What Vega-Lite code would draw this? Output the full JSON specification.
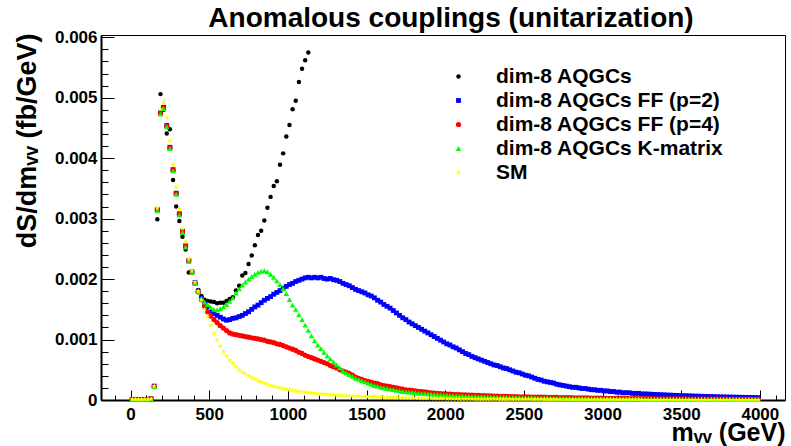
{
"$schema": "https://vega.github.io/schema/vega-lite/v6.json",
"width": 684, "height": 365,
"autosize": "none",
"padding": {"left": 101, "top": 35, "right": 6, "bottom": 46},
"background": "white",
"config": {"font": "Liberation Sans", "view": {"stroke": "black", "strokeWidth": 1}},
"title": {"text": "Anomalous couplings (unitarization)", "fontSize": 28, "fontWeight": "bold", "color": "black", "anchor": "middle", "frame": "group", "offset": 4, "dy": 9, "dx": 8},
"data": {"values": [
{"m":10,"a":0.00001,"b":0.00001,"c":0.00001,"d":0.00001,"e":0.00001},
{"m":30,"a":0.00001,"b":0.00001,"c":0.00001,"d":0.00001,"e":0.00001},
{"m":50,"a":0.00001,"b":0.00001,"c":0.00001,"d":0.00001,"e":0.00001},
{"m":70,"a":0.00001,"b":0.00001,"c":0.00001,"d":0.00001,"e":0.00001},
{"m":90,"a":0.00001,"b":0.00001,"c":0.00001,"d":0.00001,"e":0.00001},
{"m":110,"a":0.00001,"b":0.00001,"c":0.00001,"d":0.00001,"e":0.00001},
{"m":130,"a":0.00002,"b":0.00002,"c":0.00002,"d":0.00002,"e":0.00002},
{"m":150,"a":0.00022,"b":0.00023,"c":0.00022,"d":0.00022,"e":0.00023},
{"m":170,"a":0.00299,"b":0.00315,"c":0.00314,"d":0.00313,"e":0.00318},
{"m":190,"a":0.00506,"b":0.00475,"c":0.00474,"d":0.00473,"e":0.00481},
{"m":210,"a":0.0048,"b":0.00484,"c":0.00483,"d":0.00482,"e":0.00492},
{"m":230,"a":0.00441,"b":0.00454,"c":0.00453,"d":0.00452,"e":0.00467},
{"m":250,"a":0.00448,"b":0.00418,"c":0.00417,"d":0.00416,"e":0.00429},
{"m":270,"a":0.00364,"b":0.00381,"c":0.0038,"d":0.00379,"e":0.00389},
{"m":290,"a":0.0032,"b":0.00342,"c":0.00341,"d":0.0034,"e":0.00352},
{"m":310,"a":0.00296,"b":0.00308,"c":0.00307,"d":0.00306,"e":0.00316},
{"m":330,"a":0.0027,"b":0.00279,"c":0.00278,"d":0.00277,"e":0.00284},
{"m":350,"a":0.00249,"b":0.00255,"c":0.00254,"d":0.00253,"e":0.00262},
{"m":370,"a":0.00211,"b":0.00231,"c":0.0023,"d":0.00229,"e":0.00233},
{"m":390,"a":0.00212,"b":0.00212,"c":0.00211,"d":0.00211,"e":0.00214},
{"m":410,"a":0.00194,"b":0.00194,"c":0.00193,"d":0.00193,"e":0.00195},
{"m":430,"a":0.00182,"b":0.0018,"c":0.00179,"d":0.00179,"e":0.0018},
{"m":450,"a":0.00172,"b":0.00169,"c":0.00166,"d":0.00168,"e":0.00165},
{"m":470,"a":0.00166,"b":0.00158,"c":0.00155,"d":0.00162,"e":0.0015},
{"m":490,"a":0.00164,"b":0.00152,"c":0.00146,"d":0.00158,"e":0.00138},
{"m":510,"a":0.00163,"b":0.00147,"c":0.00139,"d":0.00153,"e":0.00124},
{"m":530,"a":0.00162,"b":0.00143,"c":0.00133,"d":0.0015,"e":0.0011},
{"m":550,"a":0.0016,"b":0.0014,"c":0.00128,"d":0.00149,"e":0.00099},
{"m":570,"a":0.00161,"b":0.00137,"c":0.00123,"d":0.00151,"e":0.00089},
{"m":590,"a":0.00161,"b":0.00134,"c":0.00119,"d":0.00154,"e":0.0008},
{"m":610,"a":0.00164,"b":0.00132,"c":0.00115,"d":0.00158,"e":0.00073},
{"m":630,"a":0.00167,"b":0.00133,"c":0.00111,"d":0.00163,"e":0.00066},
{"m":650,"a":0.0017,"b":0.00135,"c":0.00109,"d":0.00169,"e":0.00061},
{"m":670,"a":0.00181,"b":0.00136,"c":0.00108,"d":0.00177,"e":0.00055},
{"m":690,"a":0.00189,"b":0.00138,"c":0.00107,"d":0.00184,"e":0.0005},
{"m":710,"a":0.00206,"b":0.0014,"c":0.00106,"d":0.0019,"e":0.00046},
{"m":730,"a":0.0021,"b":0.00143,"c":0.00105,"d":0.00195,"e":0.00043},
{"m":750,"a":0.00225,"b":0.00146,"c":0.00104,"d":0.002,"e":0.0004},
{"m":770,"a":0.00239,"b":0.0015,"c":0.00103,"d":0.00204,"e":0.00037},
{"m":790,"a":0.00256,"b":0.00154,"c":0.00102,"d":0.00208,"e":0.00035},
{"m":810,"a":0.00273,"b":0.00157,"c":0.00101,"d":0.00211,"e":0.00032},
{"m":830,"a":0.0028,"b":0.00161,"c":0.001,"d":0.00213,"e":0.0003},
{"m":850,"a":0.00297,"b":0.00165,"c":0.00099,"d":0.00214,"e":0.00028},
{"m":870,"a":0.00318,"b":0.00168,"c":0.00097,"d":0.00212,"e":0.00026},
{"m":890,"a":0.00336,"b":0.00171,"c":0.00096,"d":0.00208,"e":0.00024},
{"m":910,"a":0.00354,"b":0.00175,"c":0.00095,"d":0.00203,"e":0.00023},
{"m":930,"a":0.00362,"b":0.00178,"c":0.00093,"d":0.00197,"e":0.00021},
{"m":950,"a":0.00389,"b":0.00181,"c":0.00092,"d":0.00191,"e":0.0002},
{"m":970,"a":0.00408,"b":0.00185,"c":0.0009,"d":0.00184,"e":0.00019},
{"m":990,"a":0.00436,"b":0.00188,"c":0.00088,"d":0.00176,"e":0.00018},
{"m":1010,"a":0.00455,"b":0.00191,"c":0.00086,"d":0.00166,"e":0.00017},
{"m":1030,"a":0.00481,"b":0.00193,"c":0.00084,"d":0.00157,"e":0.00016},
{"m":1050,"a":0.00495,"b":0.00196,"c":0.00082,"d":0.0015,"e":0.00015},
{"m":1070,"a":0.00526,"b":0.00198,"c":0.00079,"d":0.00141,"e":0.00014},
{"m":1090,"a":0.00548,"b":0.002,"c":0.00077,"d":0.00133,"e":0.000135},
{"m":1110,"a":0.00562,"b":0.00202,"c":0.00074,"d":0.00124,"e":0.00013},
{"m":1130,"a":0.00575,"b":0.00203,"c":0.00072,"d":0.00115,"e":0.000122},
{"m":1150,"b":0.00202,"c":0.0007,"d":0.00106,"e":0.000116},
{"m":1170,"b":0.00203,"c":0.00068,"d":0.00098,"e":0.00011},
{"m":1190,"b":0.00202,"c":0.00066,"d":0.00091,"e":0.000104},
{"m":1210,"b":0.00203,"c":0.00064,"d":0.00085,"e":0.0001},
{"m":1230,"b":0.00201,"c":0.00062,"d":0.00079,"e":0.000095},
{"m":1250,"b":0.002,"c":0.0006,"d":0.00073,"e":0.000091},
{"m":1270,"b":0.00201,"c":0.00057,"d":0.00068,"e":0.000087},
{"m":1290,"b":0.00199,"c":0.00055,"d":0.00063,"e":0.000083},
{"m":1310,"b":0.00198,"c":0.00053,"d":0.00058,"e":0.00008},
{"m":1330,"b":0.00196,"c":0.0005,"d":0.00053,"e":0.000077},
{"m":1350,"b":0.00193,"c":0.00048,"d":0.00048,"e":0.000074},
{"m":1370,"b":0.00191,"c":0.00046,"d":0.00045,"e":0.000071},
{"m":1390,"b":0.00189,"c":0.00044,"d":0.00042,"e":0.000069},
{"m":1410,"b":0.00186,"c":0.00041,"d":0.00039,"e":0.000066},
{"m":1430,"b":0.00183,"c":0.00038,"d":0.00036,"e":0.000064},
{"m":1450,"b":0.00181,"c":0.00036,"d":0.00034,"e":0.000062},
{"m":1470,"b":0.00179,"c":0.00034,"d":0.00032,"e":0.00006},
{"m":1490,"b":0.00177,"c":0.00032,"d":0.0003,"e":0.000058},
{"m":1510,"b":0.00174,"c":0.00031,"d":0.00028,"e":0.000056},
{"m":1530,"b":0.00172,"c":0.00029,"d":0.00026,"e":0.000054},
{"m":1550,"b":0.00169,"c":0.00028,"d":0.00024,"e":0.000052},
{"m":1570,"b":0.00165,"c":0.00027,"d":0.00023,"e":0.00005},
{"m":1590,"b":0.00162,"c":0.00025,"d":0.00021,"e":0.000048},
{"m":1610,"b":0.00158,"c":0.00024,"d":0.0002,"e":0.000047},
{"m":1630,"b":0.00155,"c":0.00023,"d":0.00019,"e":0.000045},
{"m":1650,"b":0.00152,"c":0.00022,"d":0.00018,"e":0.000044},
{"m":1670,"b":0.00148,"c":0.00021,"d":0.00017,"e":0.000042},
{"m":1690,"b":0.00144,"c":0.0002,"d":0.00016,"e":0.000041},
{"m":1710,"b":0.0014,"c":0.00019,"d":0.00015,"e":0.00004},
{"m":1730,"b":0.00136,"c":0.00018,"d":0.00014,"e":0.000038},
{"m":1750,"b":0.00133,"c":0.00017,"d":0.000135,"e":0.000037},
{"m":1770,"b":0.00129,"c":0.000165,"d":0.00013,"e":0.000036},
{"m":1790,"b":0.00126,"c":0.000158,"d":0.000125,"e":0.000035},
{"m":1810,"b":0.00123,"c":0.00015,"d":0.00012,"e":0.000034},
{"m":1830,"b":0.0012,"c":0.000145,"d":0.000115,"e":0.000033},
{"m":1850,"b":0.00117,"c":0.00014,"d":0.00011,"e":0.000032},
{"m":1870,"b":0.00114,"c":0.000133,"d":0.000105,"e":0.000031},
{"m":1890,"b":0.00111,"c":0.000126,"d":0.0001,"e":0.00003},
{"m":1910,"b":0.00108,"c":0.00012,"d":0.000096,"e":0.000029},
{"m":1930,"b":0.00105,"c":0.000115,"d":0.000092,"e":0.000028},
{"m":1950,"b":0.00102,"c":0.00011,"d":0.000088,"e":0.000027},
{"m":1970,"b":0.00099,"c":0.000106,"d":0.000085,"e":0.000026},
{"m":1990,"b":0.00096,"c":0.000102,"d":0.000082,"e":0.000025},
{"m":2010,"b":0.00093,"c":0.000099,"d":0.000079,"e":0.000024},
{"m":2030,"b":0.00091,"c":0.000096,"d":0.000076,"e":0.000023},
{"m":2050,"b":0.00088,"c":0.000093,"d":0.000073,"e":0.000022},
{"m":2070,"b":0.00086,"c":0.00009,"d":0.00007,"e":0.000021},
{"m":2090,"b":0.00083,"c":0.000088,"d":0.000068,"e":0.00002},
{"m":2110,"b":0.0008,"c":0.000086,"d":0.000066,"e":0.000019},
{"m":2130,"b":0.00077,"c":0.000084,"d":0.000064,"e":0.000018},
{"m":2150,"b":0.00075,"c":0.000082,"d":0.000062,"e":0.000018},
{"m":2170,"b":0.00072,"c":0.00008,"d":0.00006,"e":0.000017},
{"m":2190,"b":0.0007,"c":0.000078,"d":0.000058,"e":0.000016},
{"m":2210,"b":0.00068,"c":0.000076,"d":0.000057,"e":0.000016},
{"m":2230,"b":0.00066,"c":0.000074,"d":0.000055,"e":0.000015},
{"m":2250,"b":0.00064,"c":0.000072,"d":0.000054,"e":0.000015},
{"m":2270,"b":0.00062,"c":0.00007,"d":0.000052,"e":0.000014},
{"m":2290,"b":0.0006,"c":0.000068,"d":0.000051,"e":0.000014},
{"m":2310,"b":0.00058,"c":0.000066,"d":0.00005,"e":0.000013},
{"m":2330,"b":0.00057,"c":0.000064,"d":0.000049,"e":0.000013},
{"m":2350,"b":0.00055,"c":0.000062,"d":0.000048,"e":0.000012},
{"m":2370,"b":0.00053,"c":0.000061,"d":0.000047,"e":0.000012},
{"m":2390,"b":0.00052,"c":0.00006,"d":0.000046,"e":0.000012},
{"m":2410,"b":0.0005,"c":0.000058,"d":0.000045,"e":0.000011},
{"m":2430,"b":0.00048,"c":0.000057,"d":0.000044,"e":0.000011},
{"m":2450,"b":0.00046,"c":0.000056,"d":0.000043,"e":0.000011},
{"m":2470,"b":0.00045,"c":0.000054,"d":0.000042,"e":0.00001},
{"m":2490,"b":0.00043,"c":0.000053,"d":0.000041,"e":0.00001},
{"m":2510,"b":0.00041,"c":0.000052,"d":0.00004,"e":0.00001},
{"m":2530,"b":0.0004,"c":0.000051,"d":0.000039,"e":0.00001},
{"m":2550,"b":0.00038,"c":0.00005,"d":0.000038,"e":0.000009},
{"m":2570,"b":0.00036,"c":0.000049,"d":0.000037,"e":0.000009},
{"m":2590,"b":0.00034,"c":0.000048,"d":0.000036,"e":0.000009},
{"m":2610,"b":0.00033,"c":0.000047,"d":0.000035,"e":0.000009},
{"m":2630,"b":0.00031,"c":0.000046,"d":0.000034,"e":0.000008},
{"m":2650,"b":0.0003,"c":0.000045,"d":0.000033,"e":0.000008},
{"m":2670,"b":0.00029,"c":0.000044,"d":0.000032,"e":0.000008},
{"m":2690,"b":0.00028,"c":0.000043,"d":0.000031,"e":0.000008},
{"m":2710,"b":0.00026,"c":0.000042,"d":0.00003,"e":0.000007},
{"m":2730,"b":0.00025,"c":0.000041,"d":0.00003,"e":0.000007},
{"m":2750,"b":0.00024,"c":0.00004,"d":0.000029,"e":0.000007},
{"m":2770,"b":0.00023,"c":0.000039,"d":0.000028,"e":0.000007},
{"m":2790,"b":0.00022,"c":0.000038,"d":0.000028,"e":0.000007},
{"m":2810,"b":0.00021,"c":0.000037,"d":0.000027,"e":0.000006},
{"m":2830,"b":0.00021,"c":0.000036,"d":0.000026,"e":0.000006},
{"m":2850,"b":0.0002,"c":0.000035,"d":0.000026,"e":0.000006},
{"m":2870,"b":0.00019,"c":0.000034,"d":0.000025,"e":0.000006},
{"m":2890,"b":0.00019,"c":0.000034,"d":0.000025,"e":0.000006},
{"m":2910,"b":0.00018,"c":0.000033,"d":0.000024,"e":0.000006},
{"m":2930,"b":0.00017,"c":0.000032,"d":0.000024,"e":0.000005},
{"m":2950,"b":0.00017,"c":0.000032,"d":0.000023,"e":0.000005},
{"m":2970,"b":0.00016,"c":0.000031,"d":0.000023,"e":0.000005},
{"m":2990,"b":0.00016,"c":0.00003,"d":0.000022,"e":0.000005},
{"m":3010,"b":0.00015,"c":0.00003,"d":0.000022,"e":0.000005},
{"m":3030,"b":0.00015,"c":0.000029,"d":0.000021,"e":0.000005},
{"m":3050,"b":0.00014,"c":0.000029,"d":0.000021,"e":0.000005},
{"m":3070,"b":0.00014,"c":0.000028,"d":0.00002,"e":0.000004},
{"m":3090,"b":0.00013,"c":0.000027,"d":0.00002,"e":0.000004},
{"m":3110,"b":0.00013,"c":0.000027,"d":0.000019,"e":0.000004},
{"m":3130,"b":0.00012,"c":0.000026,"d":0.000019,"e":0.000004},
{"m":3150,"b":0.00012,"c":0.000026,"d":0.000018,"e":0.000004},
{"m":3170,"b":0.00012,"c":0.000025,"d":0.000018,"e":0.000004},
{"m":3190,"b":0.00011,"c":0.000025,"d":0.000018,"e":0.000004},
{"m":3210,"b":0.00011,"c":0.000024,"d":0.000017,"e":0.000004},
{"m":3230,"b":0.00011,"c":0.000024,"d":0.000017,"e":0.000004},
{"m":3250,"b":0.0001,"c":0.000023,"d":0.000017,"e":0.000003},
{"m":3270,"b":0.0001,"c":0.000023,"d":0.000016,"e":0.000003},
{"m":3290,"b":0.000098,"c":0.000022,"d":0.000016,"e":0.000003},
{"m":3310,"b":0.000095,"c":0.000022,"d":0.000016,"e":0.000003},
{"m":3330,"b":0.000092,"c":0.000021,"d":0.000015,"e":0.000003},
{"m":3350,"b":0.00009,"c":0.000021,"d":0.000015,"e":0.000003},
{"m":3370,"b":0.000087,"c":0.00002,"d":0.000015,"e":0.000003},
{"m":3390,"b":0.000085,"c":0.00002,"d":0.000014,"e":0.000003},
{"m":3410,"b":0.000082,"c":0.00002,"d":0.000014,"e":0.000003},
{"m":3430,"b":0.00008,"c":0.000019,"d":0.000014,"e":0.000003},
{"m":3450,"b":0.000078,"c":0.000019,"d":0.000013,"e":0.000003},
{"m":3470,"b":0.000076,"c":0.000018,"d":0.000013,"e":0.000003},
{"m":3490,"b":0.000074,"c":0.000018,"d":0.000013,"e":0.000002},
{"m":3510,"b":0.000072,"c":0.000018,"d":0.000012,"e":0.000002},
{"m":3530,"b":0.00007,"c":0.000017,"d":0.000012,"e":0.000002},
{"m":3550,"b":0.000068,"c":0.000017,"d":0.000012,"e":0.000002},
{"m":3570,"b":0.000066,"c":0.000016,"d":0.000012,"e":0.000002},
{"m":3590,"b":0.000064,"c":0.000016,"d":0.000011,"e":0.000002},
{"m":3610,"b":0.000063,"c":0.000016,"d":0.000011,"e":0.000002},
{"m":3630,"b":0.000061,"c":0.000015,"d":0.000011,"e":0.000002},
{"m":3650,"b":0.000059,"c":0.000015,"d":0.000011,"e":0.000002},
{"m":3670,"b":0.000058,"c":0.000015,"d":0.00001,"e":0.000002},
{"m":3690,"b":0.000056,"c":0.000014,"d":0.00001,"e":0.000002},
{"m":3710,"b":0.000055,"c":0.000014,"d":0.00001,"e":0.000002},
{"m":3730,"b":0.000053,"c":0.000014,"d":0.00001,"e":0.000002},
{"m":3750,"b":0.000052,"c":0.000013,"d":0.00001,"e":0.000002},
{"m":3770,"b":0.00005,"c":0.000013,"d":0.000009,"e":0.000002},
{"m":3790,"b":0.000049,"c":0.000013,"d":0.000009,"e":0.000002},
{"m":3810,"b":0.000048,"c":0.000012,"d":0.000009,"e":0.000002},
{"m":3830,"b":0.000047,"c":0.000012,"d":0.000009,"e":0.000001},
{"m":3850,"b":0.000046,"c":0.000012,"d":0.000009,"e":0.000001},
{"m":3870,"b":0.000045,"c":0.000012,"d":0.000008,"e":0.000001},
{"m":3890,"b":0.000044,"c":0.000011,"d":0.000008,"e":0.000001},
{"m":3910,"b":0.000043,"c":0.000011,"d":0.000008,"e":0.000001},
{"m":3930,"b":0.000042,"c":0.000011,"d":0.000008,"e":0.000001},
{"m":3950,"b":0.000041,"c":0.000011,"d":0.000008,"e":0.000001},
{"m":3970,"b":0.00004,"c":0.00001,"d":0.000008,"e":0.000001},
{"m":3990,"b":0.000039,"c":0.00001,"d":0.000007,"e":0.000001}
]},
"transform": [
  {"fold": ["a", "b", "c", "d", "e"], "as": ["series", "y"]},
  {"filter": "isValid(datum.y)"}
],
"layer": [
  {
    "mark": {"type": "point", "filled": true, "opacity": 1, "strokeWidth": 0},
    "encoding": {
      "x": {"field": "m", "type": "quantitative",
        "scale": {"domain": [-188, 4160], "nice": false, "zero": false},
        "axis": {"orient": "bottom", "values": [0, 500, 1000, 1500, 2000, 2500, 3000, 3500, 4000], "format": "d",
          "tickSize": -10, "tickColor": "black", "tickWidth": 1, "domainColor": "black", "domainWidth": 2,
          "labelFontSize": 17, "labelFontWeight": "bold", "labelColor": "black", "labelPadding": 16,
          "labelFlush": false, "labelOverlap": false, "grid": false,
          "title": "mᵥᵥ (GeV)", "titleFontSize": 25, "titleFontWeight": "bold", "titleColor": "black",
          "titleX": 684, "titleY": 40, "titleAlign": "right", "titleBaseline": "alphabetic"}},
      "y": {"field": "y", "type": "quantitative",
        "scale": {"domain": [0, 0.006038], "nice": false, "zero": true},
        "axis": {"orient": "left", "values": [0, 0.001, 0.002, 0.003, 0.004, 0.005, 0.006],
          "labelExpr": "datum.value == 0 ? '0' : format(datum.value, '.3f')",
          "tickSize": -13, "tickColor": "black", "tickWidth": 1, "domainColor": "black", "domainWidth": 2,
          "labelFontSize": 17, "labelFontWeight": "bold", "labelColor": "black", "labelPadding": 17,
          "labelFlush": false, "labelOverlap": false, "grid": false,
          "title": "dS/dmᵥᵥ (fb/GeV)", "titleFontSize": 27, "titleFontWeight": "bold", "titleColor": "black",
          "titleAngle": -90, "titleX": -66, "titleY": -2, "titleAlign": "right", "titleBaseline": "alphabetic"}},
      "color": {"field": "series", "type": "nominal",
        "scale": {"domain": ["a", "b", "c", "d", "e"], "range": ["#000000", "#0000ff", "#ff0000", "#00ff00", "#ffff00"]},
        "legend": {"orient": "none", "legendX": 347, "legendY": 31, "title": null,
          "labelExpr": "datum.label == 'a' ? 'dim-8 AQGCs' : datum.label == 'b' ? 'dim-8 AQGCs FF (p=2)' : datum.label == 'c' ? 'dim-8 AQGCs FF (p=4)' : datum.label == 'd' ? 'dim-8 AQGCs K-matrix' : 'SM'",
          "labelFontSize": 21, "labelFontWeight": "bold", "labelColor": "black", "labelOffset": 27,
          "rowPadding": 2, "padding": 0, "symbolStrokeWidth": 0, "symbolOpacity": 1, "labelLimit": 400}},
      "shape": {"field": "series", "type": "nominal",
        "scale": {"domain": ["a", "b", "c", "d", "e"], "range": ["circle", "square", "circle", "triangle-up", "M0,-1L0.2245,-0.309L0.951,-0.309L0.363,0.118L0.588,0.809L0,0.382L-0.588,0.809L-0.363,0.118L-0.951,-0.309L-0.2245,-0.309Z"]}},
      "size": {"field": "series", "type": "nominal",
        "scale": {"domain": ["a", "b", "c", "d", "e"], "range": [20, 34, 30, 36, 40]}},
      "order": {"field": "series"}
    }
  },
  {
    "mark": {"type": "point", "opacity": 0},
    "encoding": {
      "x": {"field": "m", "type": "quantitative",
        "scale": {"domain": [-188, 4160], "nice": false, "zero": false},
        "axis": {"orient": "bottom", "values": [-100, 100, 200, 300, 400, 600, 700, 800, 900, 1100, 1200, 1300, 1400, 1600, 1700, 1800, 1900, 2100, 2200, 2300, 2400, 2600, 2700, 2800, 2900, 3100, 3200, 3300, 3400, 3600, 3700, 3800, 3900, 4100],
          "tickSize": -5, "tickColor": "black", "tickWidth": 1, "domain": false, "labels": false, "grid": false, "title": null}},
      "y": {"field": "y", "type": "quantitative",
        "scale": {"domain": [0, 0.006038], "nice": false, "zero": true},
        "axis": {"orient": "left", "values": [0.0002, 0.0004, 0.0006, 0.0008, 0.0012, 0.0014, 0.0016, 0.0018, 0.0022, 0.0024, 0.0026, 0.0028, 0.0032, 0.0034, 0.0036, 0.0038, 0.0042, 0.0044, 0.0046, 0.0048, 0.0052, 0.0054, 0.0056, 0.0058],
          "tickSize": -7, "tickColor": "black", "tickWidth": 1, "domain": false, "labels": false, "grid": false, "title": null}}
    }
  }
],
"resolve": {"axis": {"x": "independent", "y": "independent"}}
}
